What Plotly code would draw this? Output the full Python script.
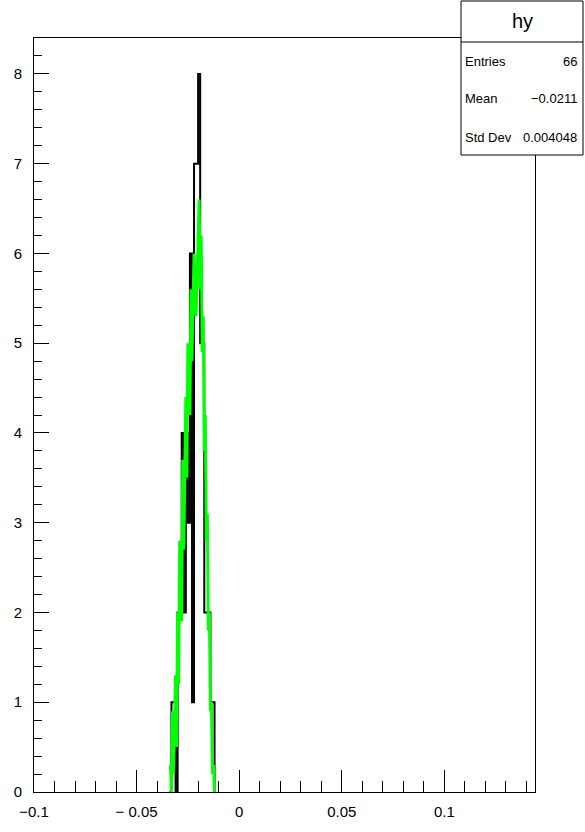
import plotly.graph_objects as go

# ---------------- data ----------------
bin_width = 0.001
bin_low_edges = [-0.034, -0.033, -0.032, -0.031, -0.030, -0.029, -0.028, -0.027,
                 -0.026, -0.025, -0.024, -0.023, -0.022, -0.021, -0.020, -0.019,
                 -0.018, -0.017, -0.016, -0.015, -0.014, -0.013]
bin_counts = [0, 1, 1, 0, 2, 2, 4, 2,
              4, 3, 6, 1, 7, 7, 8, 5,
              5, 2, 2, 2, 1, 1]

fit_x = [-0.0335, -0.0330, -0.0325, -0.0320, -0.0310, -0.0305, -0.0300, -0.0295,
         -0.0290, -0.0280, -0.0275, -0.0270, -0.0260, -0.0255, -0.0250, -0.0240,
         -0.0235, -0.0230, -0.0220, -0.0210, -0.0195, -0.0190, -0.0185, -0.0180,
         -0.0175, -0.0170, -0.0165, -0.0160, -0.0155, -0.0150, -0.0145, -0.0140,
         -0.0135, -0.0130, -0.0125, -0.0120]
fit_y = [0.3, 0.0, 0.9, 0.2, 1.3, 0.5, 2.0, 1.2,
         2.8, 1.9, 3.7, 2.7, 4.4, 3.5, 5.0, 4.2,
         5.6, 4.8, 6.0, 5.3, 6.6, 5.6, 6.2, 4.9,
         5.3, 3.8, 4.2, 2.8, 3.1, 1.8, 2.0, 0.9,
         1.0, 0.2, 0.3, 0.0]

x_tick_vals = [-0.1, -0.05, 0, 0.05, 0.1]
x_tick_text = ["\u22120.1", "\u2212 0.05", "0", "0.05", "0.1"]
y_tick_vals = [0, 1, 2, 3, 4, 5, 6, 7, 8]

stat_title = "hy"
stat_names = ["Entries", "Mean", "Std Dev"]
stat_values = ["66", "\u22120.0211", "0.004048"]

# ---------------- histogram outline ----------------
hx = [bin_low_edges[0]] + bin_low_edges + [bin_low_edges[-1] + bin_width]
hy = [0] + bin_counts + [0]

FONT = "Liberation Sans, Arial, sans-serif"
W, H = 585, 832
L, R, T, B = 34, 535, 38, 792

fig = go.Figure()
fig.add_trace(go.Scatter(x=hx, y=hy, mode="lines", line=dict(shape="hv", color="black", width=2),
                         hoverinfo="skip", showlegend=False))
fig.add_trace(go.Scatter(x=fit_x, y=fit_y, mode="lines", line=dict(color="#00ff00", width=3),
                         hoverinfo="skip", showlegend=False))


def px(xp):
    return (xp - L) / (R - L)


def py(yp):
    return (B - yp) / (B - T)


box_l, box_r, box_t, box_b, sep = 461, 583, 1, 155, 42
shapes = [
    dict(type="rect", xref="paper", yref="paper", x0=px(box_l), x1=px(box_r), y0=py(box_b), y1=py(box_t),
         line=dict(color="black", width=1), fillcolor="white", layer="above"),
    dict(type="line", xref="paper", yref="paper", x0=px(box_l), x1=px(box_r), y0=py(sep), y1=py(sep),
         line=dict(color="black", width=1), layer="above"),
]
annotations = [
    dict(text=stat_title, xref="paper", yref="paper", x=px((box_l + box_r) / 2), y=py(21),
         xanchor="center", yanchor="middle", showarrow=False, font=dict(family=FONT, size=20, color="black")),
]
row_y = [61, 99, 137]
for name, val, ry in zip(stat_names, stat_values, row_y):
    annotations.append(dict(text=name, xref="paper", yref="paper", x=px(box_l + 2), y=py(ry),
                            xanchor="left", yanchor="middle", showarrow=False,
                            font=dict(family=FONT, size=13, color="black")))
    annotations.append(dict(text=val, xref="paper", yref="paper", x=px(box_r - 4), y=py(ry),
                            xanchor="right", yanchor="middle", showarrow=False,
                            font=dict(family=FONT, size=13, color="black")))

fig.update_layout(
    width=W, height=H,
    margin=dict(l=L, r=W - R, t=T, b=H - B, pad=0),
    paper_bgcolor="white", plot_bgcolor="white",
    font=dict(family=FONT, size=15, color="black"),
    shapes=shapes, annotations=annotations,
    showlegend=False,
)
fig.update_xaxes(
    range=[-0.1, 0.1442], showgrid=False, zeroline=False,
    showline=True, linecolor="black", linewidth=1, mirror=True,
    ticks="inside", ticklen=22, tickcolor="black", tickwidth=1,
    tickmode="array", tickvals=x_tick_vals, ticktext=x_tick_text,
    ticklabelstandoff=6,
    minor=dict(tickmode="linear", tick0=0, dtick=0.01, ticks="inside", ticklen=11, tickcolor="black", tickwidth=1),
)
fig.update_yaxes(
    range=[0, 8.4], showgrid=False, zeroline=False,
    showline=True, linecolor="black", linewidth=1, mirror=True,
    ticks="inside", ticklen=15, tickcolor="black", tickwidth=1,
    tickmode="array", tickvals=y_tick_vals,
    ticklabelstandoff=8,
    minor=dict(tickmode="linear", tick0=0, dtick=0.2, ticks="inside", ticklen=7.5, tickcolor="black", tickwidth=1),
)

fig.write_html("out.html", config={"displayModeBar": False},
               post_script="document.body.style.margin='0';document.body.style.overflow='hidden';")
